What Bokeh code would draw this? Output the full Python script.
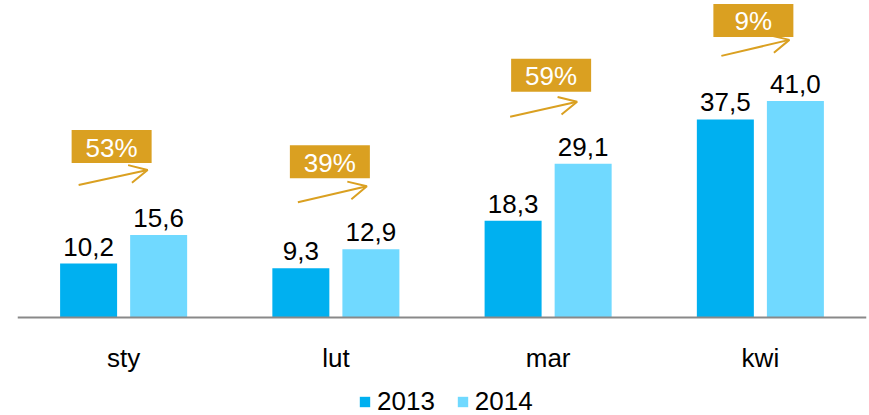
from bokeh.plotting import figure
from bokeh.models import (Range1d, ColumnDataSource, Arrow, OpenHead, Span,
                          Legend, LegendItem)
from bokeh.core.properties import value
from bokeh.embed import file_html
from bokeh.resources import INLINE

# ---- data ----
months = ["sty", "lut", "mar", "kwi"]
v2013 = [10.2, 9.3, 18.3, 37.5]
v2014 = [15.6, 12.9, 29.1, 41.0]
growth = ["53%", "39%", "59%", "9%"]
series = ["2013", "2014"]

# ---- layout (pixels) ----
W, H = 869, 415
LEFT, RIGHT = 17, 3
BASE = 317                    # pixel row of the value axis zero line
YMAX = 60.0
FRAME_W = W - LEFT - RIGHT
XPX = FRAME_W / len(months)   # px per x unit
YPX = BASE / YMAX             # px per y unit
YMIN = -(H - BASE) / YPX

box_dx = [-52, -46, -37, -47]      # box left relative to group centre
box_gap = [72, 71, 72, 64]         # box bottom above 2014 bar top
box_w, box_h = 80, 33
arr_start = [(-45, 50), (-38, 47), (-38, 47), (-39, 45)]
arr_end = [(24, 65), (31, 63), (29, 62), (29, 61)]

C13 = "#00B0F0"
C14 = "#70D9FF"
GOLD = "#DAA021"
FONT = "Liberation Sans"
FS = "26px"

centers = [i + 0.5 for i in range(len(months))]
off = 0.165
bw = 57 / XPX

p = figure(width=W, height=H,
           x_range=Range1d(0, len(months)), y_range=Range1d(YMIN, YMAX),
           output_backend="svg", toolbar_location=None,
           x_axis_location=None, y_axis_location=None,
           min_border_left=LEFT, min_border_right=RIGHT, min_border_top=0,
           min_border_bottom=0)
p.grid.visible = False
p.outline_line_color = None
p.background_fill_color = "white"
p.border_fill_color = "white"

x13 = [c - off for c in centers]
x14 = [c + off for c in centers]
r13 = p.vbar(x=x13, top=v2013, width=bw, bottom=0, fill_color=C13, line_color=None)
r14 = p.vbar(x=x14, top=v2014, width=bw, bottom=0, fill_color=C14, line_color=None)

# category axis line and labels
p.add_layout(Span(location=0, dimension="width", line_color="#898989", line_width=2))
p.text(x=centers, y=[0] * len(months), text=months, text_align="center",
       text_baseline="alphabetic", y_offset=40,
       text_font=value(FONT), text_font_size=FS, text_color="black")

fmt = lambda v: f"{v:.1f}".replace(".", ",")
p.text(x=x13 + x14, y=v2013 + v2014, text=[fmt(v) for v in v2013 + v2014],
       text_align="center", text_baseline="alphabetic", y_offset=-17,
       text_font=value(FONT), text_font_size=FS, text_color="black")

# growth boxes
left = [c + dx / XPX for c, dx in zip(centers, box_dx)]
right = [l + box_w / XPX for l in left]
bot = [v + g / YPX for v, g in zip(v2014, box_gap)]
top = [b + box_h / YPX for b in bot]
p.quad(left=left, right=right, bottom=bot, top=top, fill_color=GOLD, line_color=None)
p.text(x=[(l + r) / 2 for l, r in zip(left, right)], y=[(b + t) / 2 for b, t in zip(bot, top)],
       text=growth, text_align="center", text_baseline="middle", y_offset=1,
       text_font=value(FONT), text_font_size=FS, text_color="white")

# arrows
src = ColumnDataSource(dict(
    xs=[c + s[0] / XPX for c, s in zip(centers, arr_start)],
    ys=[v + s[1] / YPX for v, s in zip(v2014, arr_start)],
    xe=[c + e[0] / XPX for c, e in zip(centers, arr_end)],
    ye=[v + e[1] / YPX for v, e in zip(v2014, arr_end)],
))
p.add_layout(Arrow(end=OpenHead(size=18, line_color=GOLD, line_width=2),
                   x_start="xs", y_start="ys", x_end="xe", y_end="ye",
                   line_color=GOLD, line_width=2, source=src))

legend = Legend(items=[LegendItem(label=series[0], renderers=[r13]),
                       LegendItem(label=series[1], renderers=[r14])],
                orientation="horizontal", location=(358 - LEFT, -2),
                label_text_font=FONT, label_text_font_size=FS,
                label_text_color="black",
                glyph_width=13, glyph_height=13, label_standoff=6, spacing=21,
                padding=0, margin=0, border_line_color=None, background_fill_alpha=0)
p.add_layout(legend, "center")

open("out.html", "w").write(file_html(p, INLINE))
